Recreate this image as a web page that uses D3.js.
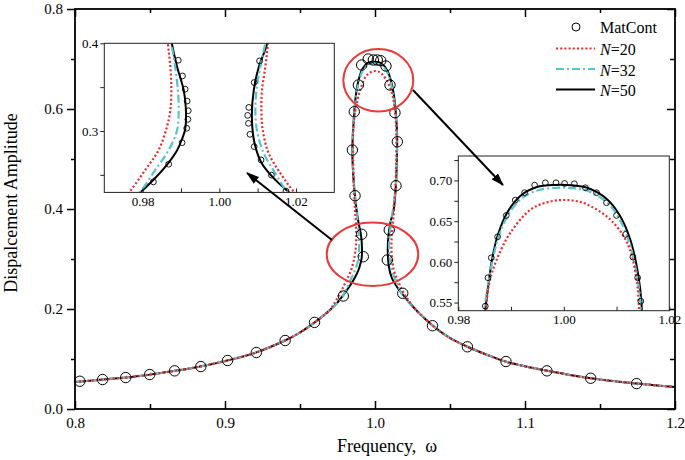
<!DOCTYPE html>
<html><head><meta charset="utf-8">
<script src="https://cdn.jsdelivr.net/npm/d3@7"></script>
<style>
body{margin:0;background:#fff}
svg{display:block}
text{font-family:"Liberation Serif","Times New Roman",serif;fill:#000}
</style>
</head><body>
<svg id="c" width="685" height="460"></svg>
<script>
// ---------- data ----------
const tailLeftOmega = [0.800, 0.820, 0.840, 0.860, 0.880, 0.900, 0.920, 0.940, 0.950, 0.960, 0.970];
const tailLeftAmp   = [0.054, 0.0593, 0.0648, 0.0733, 0.0830, 0.0958, 0.1123, 0.1370, 0.1530, 0.1737, 0.198];
const tailRightOmega = [1.030, 1.040, 1.050, 1.062, 1.075, 1.087, 1.100, 1.115, 1.130, 1.144, 1.160, 1.175, 1.190, 1.200];
const tailRightAmp   = [0.190, 0.163, 0.142, 0.124, 0.108, 0.095, 0.0855, 0.0763, 0.068, 0.0615, 0.0555, 0.0508, 0.0465, 0.0441];

// N = 50 (solid black) peak branch
const omega50 = [0.9750, 0.9794, 0.9834, 0.9868, 0.9890, 0.9902, 0.9911, 0.9913, 0.9907, 0.9890, 0.9876, 0.9862, 0.9851, 0.9849, 0.9851,
                 0.98575, 0.9864, 0.98745, 0.98923, 0.99175, 0.9949, 0.9985, 1.0015, 1.0044, 1.0082, 1.0107, 1.0126, 1.0137, 1.0145, 1.0148,
                 1.0146, 1.0140, 1.0125, 1.0103, 1.0090, 1.0085, 1.0092, 1.0111, 1.0147, 1.0185, 1.0240];
const amp50   = [0.213, 0.230, 0.247, 0.264, 0.278, 0.290, 0.302, 0.324, 0.347, 0.373, 0.400, 0.440, 0.490, 0.520, 0.540,
                 0.574, 0.603, 0.632, 0.660, 0.681, 0.692, 0.6945, 0.6940, 0.691, 0.677, 0.656, 0.6275, 0.599, 0.566, 0.540,
                 0.500, 0.450, 0.400, 0.373, 0.347, 0.316, 0.286, 0.263, 0.244, 0.229, 0.209];
// N = 32 (cyan dash-dot)
const omega32 = [0.9750, 0.9794, 0.9833, 0.9868, 0.9890, 0.9894, 0.9892, 0.9885, 0.9875, 0.9862, 0.9852, 0.9850, 0.9857, 0.9865, 0.9876,
                 0.9894, 0.9920, 0.9952, 0.9987, 1.0017, 1.0046, 1.0082, 1.0106, 1.0124, 1.0135, 1.0143, 1.0146, 1.0144, 1.0138, 1.0120,
                 1.0107, 1.0097, 1.0094, 1.0098, 1.0116, 1.0146, 1.0177, 1.0240];
const amp32   = [0.213, 0.231, 0.2557, 0.2784, 0.3011, 0.3239, 0.3466, 0.373, 0.400, 0.440, 0.490, 0.540, 0.574, 0.602, 0.630,
                 0.657, 0.678, 0.688, 0.691, 0.6905, 0.687, 0.673, 0.652, 0.624, 0.596, 0.565, 0.540, 0.490, 0.445, 0.400,
                 0.373, 0.3466, 0.3239, 0.3011, 0.2746, 0.2519, 0.231, 0.208];
// N = 20 (red dotted)
const omega20 = [0.9720, 0.97635, 0.9807, 0.98418, 0.98635, 0.98723, 0.98749, 0.98723, 0.98661, 0.9858, 0.9854, 0.9853, 0.9858, 0.9873, 0.9899,
                 0.99365, 0.9965, 0.9993, 1.0020, 1.0044, 1.0088, 1.0120, 1.0136, 1.0142, 1.0142, 1.0137, 1.0127, 1.0120, 1.01114, 1.01097,
                 1.01132, 1.01288, 1.01592, 1.0194, 1.0250];
const amp20   = [0.207, 0.2292, 0.2557, 0.2784, 0.305, 0.3239, 0.3466, 0.373, 0.3997, 0.450, 0.500, 0.540, 0.572, 0.603, 0.636,
                 0.664, 0.6725, 0.6758, 0.675, 0.6705, 0.652, 0.6235, 0.5866, 0.550, 0.500, 0.450, 0.3997, 0.373, 0.3466, 0.3239,
                 0.3011, 0.2746, 0.2519, 0.231, 0.206];

// MatCont points shown in main plot
const matOmega = [0.8032, 0.8184, 0.8338, 0.8498, 0.8664, 0.8839, 0.9017, 0.9209, 0.9401, 0.9597, 0.9789, 0.9922, 0.9911, 0.9867, 0.9849,
                  0.9862, 0.9889, 0.9911, 0.9955, 0.9989, 1.0015, 1.0038, 1.0073, 1.0100, 1.0133, 1.0149, 1.0140, 1.0095, 1.0082, 1.0185,
                  1.0383, 1.0616, 1.0873, 1.1146, 1.1438, 1.1744];
const matAmp   = [0.0555, 0.0589, 0.0629, 0.0689, 0.0763, 0.0849, 0.0970, 0.1130, 0.1370, 0.1732, 0.226, 0.3046, 0.3494, 0.4266, 0.518,
                  0.5946, 0.648, 0.688, 0.700, 0.698, 0.698, 0.6966, 0.686, 0.648, 0.5926, 0.5346, 0.4466, 0.358, 0.298, 0.2314,
                  0.1666, 0.1244, 0.0950, 0.0763, 0.0615, 0.0508];
// MatCont points shown in the lower inset
const matLowOmega = [0.9828, 0.9868, 0.9903, 0.9915, 0.9918, 0.9919, 0.9916, 0.9911, 0.9904, 0.9893,
                     1.0174, 1.0136, 1.0109, 1.0091, 1.0080, 1.0076, 1.0074, 1.0077, 1.0091, 1.0105];
const matLowAmp   = [0.242, 0.2622, 0.2867, 0.3031, 0.3133, 0.3231, 0.3341, 0.3477, 0.3628, 0.3807,
                     0.2315, 0.2497, 0.267, 0.2822, 0.2962, 0.3087, 0.3178, 0.3269, 0.3553, 0.3799];
// MatCont points shown in the upper inset
const matTopOmega = [0.98512, 0.98563, 0.98626, 0.98745, 0.9891, 0.9908, 0.99257, 0.99447, 0.9965, 0.99852,
                     1.00015, 1.0020, 1.0041, 1.0062, 1.0081, 1.0100, 1.0117, 1.0131, 1.0140, 1.0146];
const matTopAmp   = [0.5456, 0.5805, 0.605, 0.6308, 0.657, 0.6758, 0.6849, 0.6942, 0.6971, 0.6971,
                     0.6963, 0.6959, 0.691, 0.6849, 0.6726, 0.657, 0.6337, 0.6058, 0.5805, 0.5517];

const xTicksMain = [0.8, 0.9, 1.0, 1.1, 1.2];
const yTicksMain = [0.0, 0.2, 0.4, 0.6, 0.8];

// ---------- layout ----------
const svg = d3.select("#c");
const M = {l: 75, r: 675, t: 9, b: 409};
const x = d3.scaleLinear().domain([0.8, 1.2]).range([M.l, M.r]);
const y = d3.scaleLinear().domain([0, 0.8]).range([M.b, M.t]);

const zip = (o, a) => o.map((v, i) => [v, a[i]]);
const fullPath = (o, a) => zip(tailLeftOmega, tailLeftAmp).concat(zip(o, a), zip(tailRightOmega, tailRightAmp));

const RED = "#f02828", CYAN = "#55c4cc";
const series = [
  {pts: fullPath(omega50, amp50), color: "#000", dash: null, w: 2},
  {pts: fullPath(omega32, amp32), color: CYAN, dash: "8 3 2 3", w: 2.2},
  {pts: fullPath(omega20, amp20), color: RED, dash: "2 2.2", w: 2.2}
];

const defs = svg.append("defs");
defs.append("marker").attr("id", "ah").attr("viewBox", "0 0 12 8").attr("refX", 11).attr("refY", 4)
  .attr("markerWidth", 13).attr("markerHeight", 9).attr("markerUnits", "userSpaceOnUse").attr("orient", "auto")
  .append("path").attr("d", "M0,0 L12,4 L0,8 Z").attr("fill", "#000");

function drawCurves(g, sx, sy, scaleW) {
  const line = d3.line().x(d => sx(d[0])).y(d => sy(d[1])).curve(d3.curveCatmullRom.alpha(0.5));
  series.forEach(s => {
    g.append("path").attr("d", line(s.pts)).attr("fill", "none")
      .attr("stroke", s.color).attr("stroke-width", s.w * scaleW)
      .attr("stroke-dasharray", s.dash);
  });
}

// main curves
const gMain = svg.append("g");
drawCurves(gMain, x, y, 1);
gMain.selectAll("circle.m").data(zip(matOmega, matAmp)).join("circle")
  .attr("cx", d => x(d[0])).attr("cy", d => y(d[1])).attr("r", 5.2)
  .attr("fill", "none").attr("stroke", "#000").attr("stroke-width", 1);

// axes
function styleAxis(g) {
  g.selectAll("path.domain").remove();
  g.selectAll("line").attr("stroke", "#000").attr("stroke-width", 1.5);
  g.selectAll("text").style("font-family", "'Liberation Serif',serif");
}
const fmt1 = d3.format(".1f");
// bottom: inward ticks
svg.append("g").attr("transform", `translate(0,${M.b})`)
  .call(d3.axisBottom(x).tickValues(xTicksMain).tickSize(-8).tickPadding(8.5).tickFormat(fmt1))
  .call(styleAxis).selectAll("text").attr("font-size", 15);
svg.append("g").attr("transform", `translate(0,${M.b})`)
  .call(d3.axisBottom(x).tickValues([0.85, 0.95, 1.05, 1.15]).tickSize(-5).tickFormat(""))
  .call(styleAxis);
// top: inward
svg.append("g").attr("transform", `translate(0,${M.t})`)
  .call(d3.axisTop(x).tickValues(xTicksMain).tickSize(-8).tickFormat("")).call(styleAxis);
svg.append("g").attr("transform", `translate(0,${M.t})`)
  .call(d3.axisTop(x).tickValues([0.85, 0.95, 1.05, 1.15]).tickSize(-4).tickFormat("")).call(styleAxis);
// left: outward
svg.append("g").attr("transform", `translate(${M.l},0)`)
  .call(d3.axisLeft(y).tickValues(yTicksMain).tickSize(8).tickPadding(4).tickFormat(fmt1))
  .call(styleAxis).selectAll("text").attr("font-size", 15);
svg.append("g").attr("transform", `translate(${M.l},0)`)
  .call(d3.axisLeft(y).tickValues([0.1, 0.3, 0.5, 0.7]).tickSize(4).tickFormat("")).call(styleAxis);
// right: inward
svg.append("g").attr("transform", `translate(${M.r},0)`)
  .call(d3.axisRight(y).tickValues(yTicksMain).tickSize(-8).tickFormat("")).call(styleAxis);
svg.append("g").attr("transform", `translate(${M.r},0)`)
  .call(d3.axisRight(y).tickValues([0.1, 0.3, 0.5, 0.7]).tickSize(-5).tickFormat("")).call(styleAxis);
// frame
svg.append("rect").attr("x", M.l).attr("y", M.t).attr("width", M.r - M.l).attr("height", M.b - M.t)
  .attr("fill", "none").attr("stroke", "#000").attr("stroke-width", 1.8);

// axis titles
svg.append("text").attr("x", 387).attr("y", 452).attr("text-anchor", "middle").attr("font-size", 18)
  .attr("xml:space", "preserve").text("Frequency,  \u03c9");
svg.append("text").attr("transform", "translate(17,203) rotate(-90)").attr("text-anchor", "middle")
  .attr("font-size", 18).text("Dispalcement Amplitude");

// red ellipses (in data coordinates)
const ellipses = [
  {cx: 1.0022, cy: 0.6574, rx: 0.0233, ry: 0.0626},
  {cx: 0.9983, cy: 0.3094, rx: 0.0305, ry: 0.0634}
];
svg.selectAll("ellipse.e").data(ellipses).join("ellipse")
  .attr("cx", d => x(d.cx)).attr("cy", d => y(d.cy))
  .attr("rx", d => x(d.cx + d.rx) - x(d.cx)).attr("ry", d => y(d.cy - d.ry) - y(d.cy))
  .attr("fill", "none").attr("stroke", "#e83a3a").attr("stroke-width", 2);

// ---------- insets ----------
function inset(id, box, xd, yd, xTicks, xLab, yTicks, yLab, ptsO, ptsA) {
  const sx = d3.scaleLinear().domain(xd).range([box.x0, box.x1]);
  const sy = d3.scaleLinear().domain(yd).range([box.y1, box.y0]);
  const g = svg.append("g");
  g.append("rect").attr("x", box.x0).attr("y", box.y0).attr("width", box.x1 - box.x0).attr("height", box.y1 - box.y0)
    .attr("fill", "#fff");
  defs.append("clipPath").attr("id", id).append("rect")
    .attr("x", box.x0).attr("y", box.y0).attr("width", box.x1 - box.x0).attr("height", box.y1 - box.y0);
  const gc = g.append("g").attr("clip-path", `url(#${id})`);
  drawCurves(gc, sx, sy, 1);
  gc.selectAll("circle").data(zip(ptsO, ptsA)).join("circle")
    .attr("cx", d => sx(d[0])).attr("cy", d => sy(d[1])).attr("r", 2.9)
    .attr("fill", "none").attr("stroke", "#000").attr("stroke-width", 0.9);
  g.append("rect").attr("x", box.x0).attr("y", box.y0).attr("width", box.x1 - box.x0).attr("height", box.y1 - box.y0)
    .attr("fill", "none").attr("stroke", "#222").attr("stroke-width", 1);
  const f2 = d3.format(".2f");
  const bx = g.append("g").attr("transform", `translate(0,${box.y1})`)
    .call(d3.axisBottom(sx).tickValues(xTicks).tickSize(-4).tickPadding(box.xpad)
      .tickFormat(v => xLab.some(l => Math.abs(l - v) < 1e-9) ? f2(v) : ""));
  bx.select("path.domain").remove();
  bx.selectAll("line").attr("stroke", "#222").attr("stroke-width", 1);
  bx.selectAll("text").attr("font-size", 13).style("font-family", "'Liberation Serif',serif");
  const by = g.append("g").attr("transform", `translate(${box.x0},0)`)
    .call(d3.axisLeft(sy).tickValues(yTicks).tickSize(4).tickPadding(2)
      .tickFormat(v => yLab.some(l => Math.abs(l - v) < 1e-9) ? box.yf(v) : ""));
  by.select("path.domain").remove();
  by.selectAll("line").attr("stroke", "#222").attr("stroke-width", 1);
  by.selectAll("text").attr("font-size", 13).style("font-family", "'Liberation Serif',serif");
  return g;
}
inset("clipLow", {x0: 104.3, x1: 334.3, y0: 43.3, y1: 192.4, xpad: 4, yf: d3.format(".1f")},
  [0.97, 1.03], [0.23, 0.40],
  [0.98, 0.99, 1.00, 1.01, 1.02], [0.98, 1.00, 1.02],
  [0.25, 0.30, 0.35, 0.40], [0.30, 0.40],
  matLowOmega, matLowAmp);
inset("clipTop", {x0: 458.3, x1: 669.3, y0: 156, y1: 310.7, xpad: 4, yf: d3.format(".2f")},
  [0.98, 1.02], [0.54, 0.73],
  [0.98, 0.99, 1.00, 1.01, 1.02], [0.98, 1.00, 1.02],
  [0.55, 0.575, 0.60, 0.625, 0.65, 0.675, 0.70, 0.725], [0.55, 0.60, 0.65, 0.70],
  matTopOmega, matTopAmp);

// arrows (data coordinates of main plot)
const arrows = [
  {from: [1.0253, 0.638], to: [1.0853, 0.448]},
  {from: [0.9713, 0.338], to: [0.9147, 0.472]}
];
svg.selectAll("line.arr").data(arrows).join("line")
  .attr("x1", d => x(d.from[0])).attr("y1", d => y(d.from[1]))
  .attr("x2", d => x(d.to[0])).attr("y2", d => y(d.to[1]))
  .attr("stroke", "#000").attr("stroke-width", 2).attr("marker-end", "url(#ah)");

// ---------- legend ----------
const lg = svg.append("g");
lg.append("circle").attr("cx", 576).attr("cy", 27).attr("r", 4).attr("fill", "none").attr("stroke", "#000").attr("stroke-width", 1);
lg.append("text").attr("x", 600).attr("y", 33).attr("font-size", 16).text("MatCont");
const legItems = [
  {n: "20", s: series[2], yy: 48.5},
  {n: "32", s: series[1], yy: 69},
  {n: "50", s: series[0], yy: 89.5}
];
legItems.forEach(it => {
  lg.append("line").attr("x1", 556).attr("x2", 595).attr("y1", it.yy).attr("y2", it.yy)
    .attr("stroke", it.s.color).attr("stroke-width", it.s.w).attr("stroke-dasharray", it.s.dash);
  const t = lg.append("text").attr("x", 600).attr("y", it.yy + 6.5).attr("font-size", 16);
  t.append("tspan").attr("font-style", "italic").text("N");
  t.append("tspan").text("=" + it.n);
});
</script>
</body></html>
